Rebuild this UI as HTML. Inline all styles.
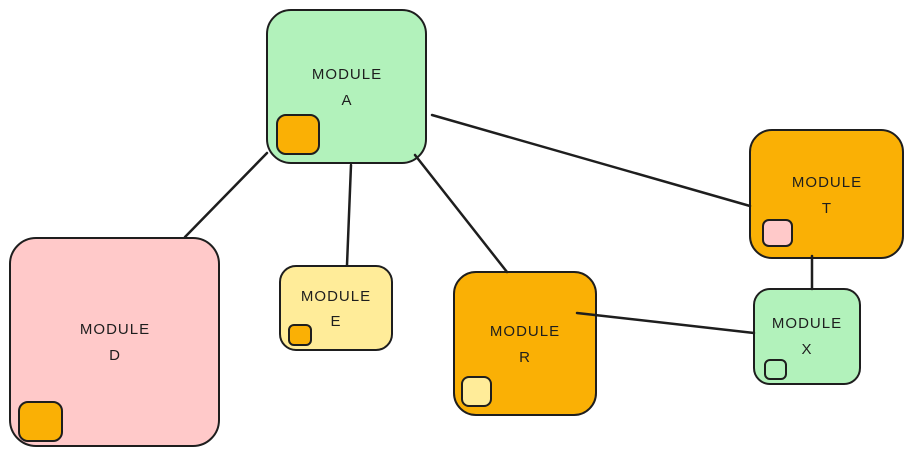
<!DOCTYPE html>
<html><head><meta charset="utf-8"><style>
html,body{margin:0;padding:0;background:#fff;width:913px;height:456px;overflow:hidden}
text{font-family:"Liberation Sans",sans-serif;font-size:15px;fill:#1e1e1e;text-anchor:middle;letter-spacing:1px}
</style></head><body>
<svg width="913" height="456" viewBox="0 0 913 456" xmlns="http://www.w3.org/2000/svg">
<g stroke="#1e1e1e" stroke-width="2">
<rect x="267" y="10" width="159" height="153" rx="24" fill="#b2f2bb"/>
<rect x="277" y="115" width="42" height="39" rx="9" fill="#fab005"/>
<rect x="10" y="238" width="209" height="208" rx="26" fill="#ffc9c9"/>
<rect x="19" y="402" width="43" height="39" rx="9" fill="#fab005"/>
<rect x="280" y="266" width="112" height="84" rx="16" fill="#ffec99"/>
<rect x="289" y="325" width="22" height="20" rx="5" fill="#fab005"/>
<rect x="454" y="272" width="142" height="143" rx="22" fill="#fab005"/>
<rect x="462" y="377" width="29" height="29" rx="7" fill="#ffec99"/>
<rect x="750" y="130" width="153" height="128" rx="22" fill="#fab005"/>
<rect x="763" y="220" width="29" height="26" rx="6" fill="#ffc9c9"/>
<rect x="754" y="289" width="106" height="95" rx="16" fill="#b2f2bb"/>
<rect x="765" y="360" width="21" height="19" rx="5" fill="#b2f2bb"/>
</g>
<g stroke="#1e1e1e" stroke-width="2.5" fill="none" stroke-linecap="round">
<line x1="267" y1="153" x2="185" y2="237"/>
<line x1="351" y1="165" x2="347" y2="265"/>
<line x1="415" y1="155" x2="507" y2="272"/>
<line x1="432" y1="115" x2="750" y2="206"/>
<line x1="812" y1="256" x2="812" y2="289"/>
<line x1="577" y1="313" x2="754" y2="333"/>
</g>
<text x="347" y="79">MODULE</text><text x="347" y="105">A</text>
<text x="115" y="334">MODULE</text><text x="115" y="360">D</text>
<text x="336" y="301">MODULE</text><text x="336" y="326">E</text>
<text x="525" y="336">MODULE</text><text x="525" y="362">R</text>
<text x="827" y="187">MODULE</text><text x="827" y="213">T</text>
<text x="807" y="328">MODULE</text><text x="807" y="354">X</text>
</svg>
</body></html>
